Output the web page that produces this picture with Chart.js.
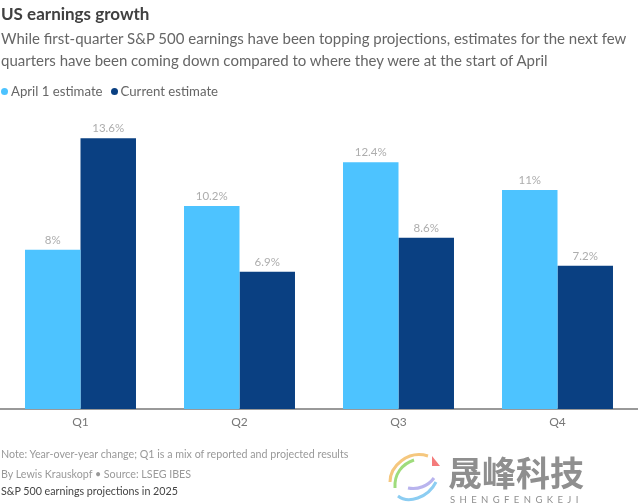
<!DOCTYPE html>
<html lang="en">
<head>
  <meta charset="UTF-8">
  <title>US earnings growth</title>
  <script src="https://cdn.jsdelivr.net/npm/chart.js"></script>
  <style>
    html, body { margin: 0; padding: 0; background: #fff; width: 641px; height: 504px; overflow: hidden; }
    body { font-family: Lato, "Open Sans", sans-serif; position: relative; }
    canvas { position: absolute; left: 0; top: 0; }
    .txt { position: absolute; left: 1px; white-space: nowrap; }
    h1.txt { margin: 0; top: 3px; font-size: 17px; line-height: 21px; font-weight: 700; color: #404040; }
    .sub { top: 28px; font-size: 15px; line-height: 21.5px; color: #666; }
    .legend { top: 82px; font-size: 13.2px; line-height: 18px; color: #666; }
    .legend i { display: inline-block; width: 7px; height: 7px; border-radius: 50%; margin-right: 3px; vertical-align: 1px; }
    .legend span { margin-right: 8px; }
    .note { font-size: 10.7px; line-height: 14px; color: #999; }
    .mark { position: absolute; left: 448px; top: 452px; font-family: "Noto Sans CJK SC", sans-serif; font-weight: 700; font-size: 34px; line-height: 40px; color: #8f8f8f; white-space: nowrap; }
    .mark2 { position: absolute; left: 450px; top: 495px; font-size: 9.5px; line-height: 10px; letter-spacing: 4.4px; color: #8f8f8f; white-space: nowrap; }
    svg { position: absolute; left: 388px; top: 452px; }
  </style>
</head>
<body>
  <canvas id="chart" width="641" height="504"></canvas>
  <h1 class="txt">US earnings growth</h1>
  <div class="txt sub">While first-quarter S&amp;P 500 earnings have been topping projections, estimates for the next few<br>quarters have been coming down compared to where they were at the start of April</div>
  <div class="txt legend" id="legend"></div>
  <div class="txt note" style="top:447px">Note: Year-over-year change; Q1 is a mix of reported and projected results</div>
  <div class="txt note" style="top:467px">By Lewis Krauskopf • Source: LSEG IBES</div>
  <div class="txt note" style="top:484px;color:#444">S&amp;P 500 earnings projections in 2025</div>
  <svg width="60" height="52" fill="none" stroke-width="3">
    <path d="M40 4 C20 -2 2 14 2 30" stroke="#f5c77e"/>
    <path d="M26 8 C14 12 6 22 7 36" stroke="#9fdc7c"/>
    <path d="M10 44 C20 52 40 46 48 30" stroke="#8ccdf2"/>
    <path d="M20 36 C30 38 40 34 46 26" stroke="#b9b4ee"/>
    <path d="M44 4 L52 14 L44 14 Z" fill="#f47b7b" stroke="none"/>
  </svg>
  <div class="mark">晟峰科技</div>
  <div class="mark2">SHENGFENGKEJI</div>

  <script>
    const categories = ['Q1', 'Q2', 'Q3', 'Q4'];
    const april1 = [8, 10.2, 12.4, 11];
    const current = [13.6, 6.9, 8.6, 7.2];
    const seriesNames = ['April 1 estimate', 'Current estimate'];
    const seriesColors = ['#4dc3ff', '#0a4082'];

    // legend is plain html so it sits where the reference has it
    document.getElementById('legend').innerHTML = seriesNames
      .map((name, i) => `<span><i style="background:${seriesColors[i]}"></i>${name}</span>`)
      .join('');

    // value labels above the bars
    const barLabels = {
      id: 'barLabels',
      afterDatasetsDraw(chart) {
        const ctx = chart.ctx;
        ctx.save();
        ctx.font = '11.5px Lato, sans-serif';
        ctx.fillStyle = '#adadad';
        ctx.textAlign = 'center';
        ctx.textBaseline = 'bottom';
        chart.data.datasets.forEach((ds, d) => {
          chart.getDatasetMeta(d).data.forEach((bar, i) => {
            ctx.fillText(ds.data[i] + '%', bar.x, bar.y - 4);
          });
        });
        ctx.restore();
      }
    };

    new Chart(document.getElementById('chart'), {
      type: 'bar',
      data: {
        labels: categories,
        datasets: [
          { label: seriesNames[0], data: april1, backgroundColor: seriesColors[0] },
          { label: seriesNames[1], data: current, backgroundColor: seriesColors[1] }
        ]
      },
      options: {
        responsive: false,
        animation: false,
        layout: { padding: { left: 1, right: 4, top: 11, bottom: 65 } },
        datasets: { bar: { barPercentage: 1, categoryPercentage: 0.698 } },
        plugins: { legend: { display: false }, tooltip: { enabled: false } },
        scales: {
          x: {
            grid: { display: false, drawTicks: false },
            border: { color: '#999', width: 2 },
            ticks: { color: '#777', font: { family: 'Lato, sans-serif', size: 12 }, padding: 6 },
            afterFit(scale) { scale.height = 30; }
          },
          y: { display: false, min: 0, max: 20 }
        }
      },
      plugins: [barLabels]
    });
  </script>
</body>
</html>
